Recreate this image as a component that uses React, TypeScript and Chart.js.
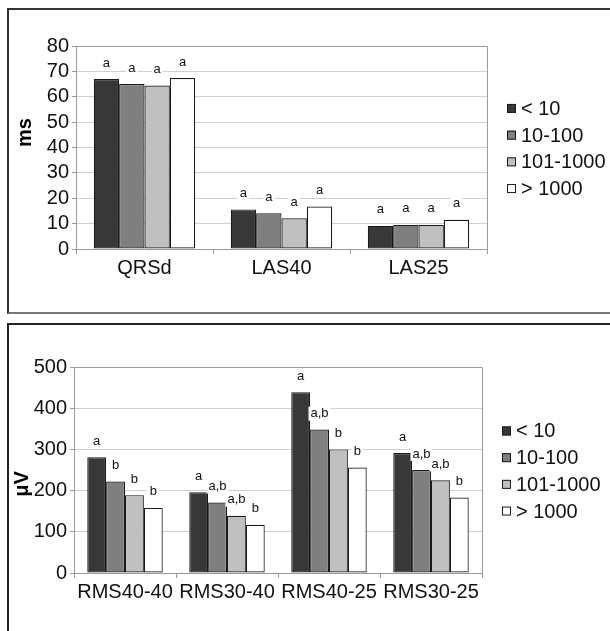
import React, { useEffect, useRef } from "react";
import { Chart, registerables } from "chart.js";
Chart.register(...registerables);

const groupLabels = ["< 10", "10-100", "101-1000", "> 1000"];
const groupColors = ["#383838", "#7f7f7f", "#c0c0c0", "#ffffff"];

const topCategories = ["QRSd", "LAS40", "LAS25"];
const topLt10 = [67, 15.6, 9.1];
const top10to100 = [65, 14.1, 9.5];
const top101to1000 = [64.4, 12.1, 9.5];
const topGt1000 = [67.4, 16.7, 11.5];
const topSigLt10 = ["a", "a", "a"];
const topSig10to100 = ["a", "a", "a"];
const topSig101to1000 = ["a", "a", "a"];
const topSigGt1000 = ["a", "a", "a"];
const topTicks = [0, 10, 20, 30, 40, 50, 60, 70, 80];

const botCategories = ["RMS40-40", "RMS30-40", "RMS40-25", "RMS30-25"];
const botLt10 = [281, 196, 439, 291];
const bot10to100 = [222, 171, 348, 250];
const bot101to1000 = [189, 139, 300, 225];
const botGt1000 = [158, 117, 256, 183];
const botSigLt10 = ["a", "a", "a", "a"];
const botSig10to100 = ["b", "a,b", "a,b", "a,b"];
const botSig101to1000 = ["b", "a,b", "b", "a,b"];
const botSigGt1000 = ["b", "b", "b", "b"];
const botTicks = [0, 100, 200, 300, 400, 500];

const FONT = "'Liberation Sans', Arial, sans-serif";

const framePlugin = {
  id: "frame",
  beforeDatasetsDraw(chart: any) {
    const { ctx, chartArea: a } = chart;
    ctx.save();
    ctx.strokeStyle = "#9a9a9a";
    ctx.lineWidth = 1;
    ctx.beginPath();
    ctx.moveTo(a.left, a.top + 0.5);
    ctx.lineTo(a.right + 0.5, a.top + 0.5);
    ctx.lineTo(a.right + 0.5, a.bottom);
    ctx.stroke();
    ctx.restore();
  },
};

const sigPlugin = {
  id: "sig",
  afterDatasetsDraw(chart: any) {
    const { ctx } = chart;
    ctx.save();
    ctx.font = `13px ${FONT}`;
    ctx.textAlign = "center";
    ctx.textBaseline = "middle";
    chart.data.datasets.forEach((ds: any, i: number) => {
      const meta = chart.getDatasetMeta(i);
      meta.data.forEach((bar: any, j: number) => {
        const t = ds.sig[j];
        const w = ctx.measureText(t).width;
        const y = bar.y - 16;
        ctx.fillStyle = "#ffffff";
        ctx.fillRect(bar.x - w / 2 - 2, y - 7, w + 4, 14);
        ctx.fillStyle = "#111";
        ctx.fillText(t, bar.x, y);
      });
    });
    ctx.restore();
  },
};

const legendPlugin = {
  id: "sideLegend",
  afterDraw(chart: any, _args: any, opts: any) {
    const { ctx, chartArea: a } = chart;
    const n = chart.data.datasets.length;
    const step = 26.7;
    const cy = (a.top + a.bottom) / 2 + 1;
    const x = a.right + 20;
    ctx.save();
    ctx.font = `20px ${FONT}`;
    ctx.textAlign = "left";
    ctx.textBaseline = "middle";
    chart.data.datasets.forEach((ds: any, i: number) => {
      const y = cy + (i - (n - 1) / 2) * step;
      ctx.fillStyle = ds.backgroundColor;
      ctx.fillRect(x, y - 4.5, 9, 9);
      ctx.strokeStyle = "#1a1a1a";
      ctx.lineWidth = 1;
      ctx.strokeRect(x + 0.5, y - 4, 8, 8);
      ctx.fillStyle = "#111";
      ctx.fillText(ds.label, x + 14, y + 1);
    });
    // y axis title
    ctx.save();
    ctx.font = `bold 20px ${FONT}`;
    ctx.fillStyle = "#000";
    ctx.textAlign = "center";
    ctx.textBaseline = "middle";
    ctx.translate(opts.titleX, (a.top + a.bottom) / 2 + opts.titleShift);
    ctx.rotate(-Math.PI / 2);
    ctx.fillText(opts.title, 0, 0);
    ctx.restore();
    ctx.restore();
  },
};

function BarPanel(props: {
  left: number; top: number; width: number; height: number;
  categories: string[]; series: number[][]; sigs: string[][]; ticks: number[];
  yTitle: string; yWidth: number; xHeight: number; padTop: number; padRight: number; titleX: number; titleShift: number;
}) {
  const ref = useRef<HTMLCanvasElement>(null);
  useEffect(() => {
    const ticks = props.ticks;
    const chart = new Chart(ref.current as HTMLCanvasElement, {
      type: "bar",
      data: {
        labels: props.categories,
        datasets: props.series.map((vals, i) => ({
          label: groupLabels[i],
          data: vals,
          sig: props.sigs[i],
          backgroundColor: groupColors[i],
          borderColor: "#1a1a1a",
          borderWidth: 1.2,
          borderSkipped: false,
          categoryPercentage: 0.74,
          barPercentage: 1.0,
        })) as any,
      },
      options: {
        responsive: false,
        animation: false,
        devicePixelRatio: 1,
        layout: { padding: { top: props.padTop, right: props.padRight, left: 0, bottom: 0 } },
        plugins: {
          legend: { display: false },
          tooltip: { enabled: false },
          sideLegend: { title: props.yTitle, titleX: props.titleX, titleShift: props.titleShift },
        },
        scales: {
          x: {
            grid: { display: true, drawOnChartArea: false, drawTicks: true, tickLength: 5, color: "#9a9a9a", offset: true },
            border: { display: true, color: "#9a9a9a", width: 1 },
            ticks: { font: { size: 20, family: FONT }, color: "#111", padding: 2, maxRotation: 0, autoSkip: false },
            afterFit: (s: any) => { s.height = props.xHeight; },
          },
          y: {
            min: ticks[0],
            max: ticks[ticks.length - 1],
            ticks: { stepSize: ticks[1] - ticks[0], autoSkip: false, font: { size: 20, family: FONT }, color: "#111", padding: 3 },
            grid: { color: "#cfcfcf", tickColor: "#9a9a9a", tickLength: 4, lineWidth: 1 },
            border: { display: true, color: "#9a9a9a", width: 1 },
            afterFit: (s: any) => { s.width = props.yWidth; },
          },
        },
      },
      plugins: [framePlugin, sigPlugin, legendPlugin],
    } as any);
    return () => chart.destroy();
  }, []);
  return (
    <canvas
      ref={ref}
      width={props.width}
      height={props.height}
      style={{ position: "absolute", left: props.left, top: props.top, width: props.width, height: props.height }}
    />
  );
}

export default function App() {
  return (
    <div style={{ position: "fixed", left: 0, top: 0, width: 610, height: 631, overflow: "hidden", background: "#fff" }}>
      <div style={{ position: "absolute", left: 7, top: 8, width: 620, height: 306, boxSizing: "border-box", borderLeft: "2px solid #333", borderTop: "2px solid #333", borderBottom: "2px solid #777" }} />
      <div style={{ position: "absolute", left: 7, top: 323, width: 620, height: 330, boxSizing: "border-box", borderLeft: "2px solid #222", borderTop: "2px solid #222" }} />
      <BarPanel
        left={9} top={10} width={601} height={302}
        categories={topCategories}
        series={[topLt10, top10to100, top101to1000, topGt1000]}
        sigs={[topSigLt10, topSig10to100, topSig101to1000, topSigGt1000]}
        ticks={topTicks}
        yTitle="ms" yWidth={67} xHeight={63} padTop={36} padRight={123} titleX={16} titleShift={-15}
      />
      <BarPanel
        left={9} top={325} width={601} height={306}
        categories={botCategories}
        series={[botLt10, bot10to100, bot101to1000, botGt1000]}
        sigs={[botSigLt10, botSig10to100, botSig101to1000, botSigGt1000]}
        ticks={botTicks}
        yTitle="μV" yWidth={65} xHeight={58} padTop={42} padRight={128} titleX={13} titleShift={14}
      />
    </div>
  );
}
